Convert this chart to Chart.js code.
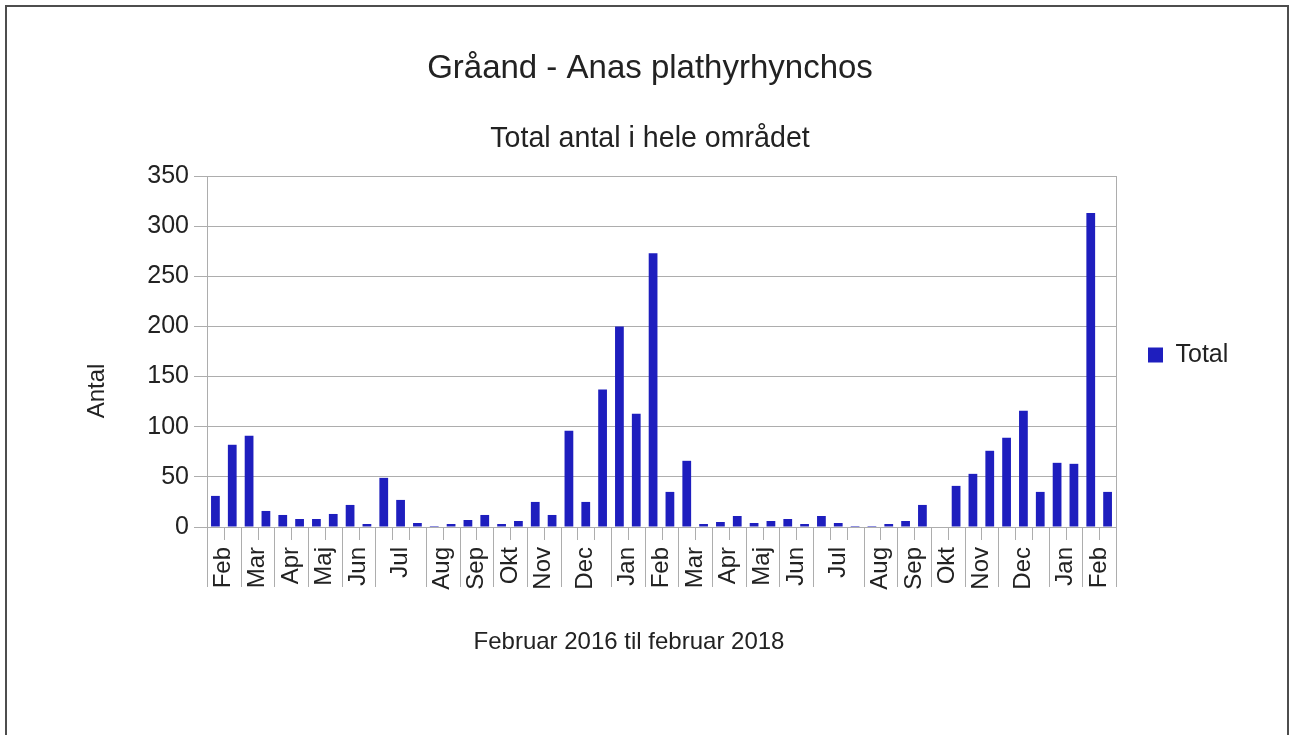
<!DOCTYPE html>
<html>
<head>
<meta charset="utf-8">
<script src="https://cdn.jsdelivr.net/npm/chart.js@4/dist/chart.umd.min.js"></script>
<style>
  html, body { margin: 0; padding: 0; background: #ffffff; overflow: hidden; }
  #wrap { position: relative; width: 1292px; height: 735px; }
  #c { position: absolute; left: 0; top: 0; }
  #frame { position: absolute; left: 5px; top: 5px; width: 1280px; height: 800px;
           border-left: 2px solid #4d4d4d; border-top: 2px solid #4d4d4d; border-right: 2px solid #4d4d4d;
           pointer-events: none; }
</style>
</head>
<body>
<div id="wrap">
  <canvas id="c" width="1292" height="735"></canvas>
  <div id="frame"></div>
</div>
<script>
// ---- data ----
const chartTitle = "Gråand - Anas plathyrhynchos";
const chartSubtitle = "Total antal i hele området";
const xAxisTitle = "Februar 2016 til februar 2018";
const yAxisTitle = "Antal";
const seriesName = "Total";

// one value per counting (54 countings, Feb 2016 - Feb 2018)
const totals = [
  31, 82, 91, 16, 12, 8, 8, 13, 22, 3,
  49, 27, 4, 1, 3, 7, 12, 3, 6, 25,
  12, 96, 25, 137, 200, 113, 273, 35, 66, 3,
  5, 11, 4, 6, 8, 3, 11, 4, 1, 1,
  3, 6, 22, 0, 41, 53, 76, 89, 116, 35,
  64, 63, 313, 35
];

// month labels and the counting index where each month group starts/ends
const monthLabels = [
  "Feb", "Mar", "Apr", "Maj", "Jun", "Jul", "Aug", "Sep", "Okt", "Nov", "Dec", "Jan",
  "Feb", "Mar", "Apr", "Maj", "Jun", "Jul", "Aug", "Sep", "Okt", "Nov", "Dec", "Jan", "Feb"
];
const monthBounds = [0, 2, 4, 6, 8, 10, 13, 15, 17, 19, 21, 24, 26, 28, 30, 32, 34, 36, 39, 41, 43, 45, 47, 50, 52, 54];

const yTicks = [0, 50, 100, 150, 200, 250, 300, 350];

// ---- styling ----
const barColor = "#1e1ebe";
const textColor = "#222222";
const gridColor = "#adadad";
const fontFamily = "'Liberation Sans', Arial, sans-serif";

Chart.defaults.font.family = fontFamily;
Chart.defaults.color = textColor;

const barData = totals.map((v, i) => ({ x: i + 0.5, y: v }));
const labelCenters = monthLabels.map((m, i) => (monthBounds[i] + monthBounds[i + 1]) / 2);

const decorPlugin = {
  id: 'decor',
  afterDraw(chart) {
    const ctx = chart.ctx;
    const xs = chart.scales.x;
    const area = chart.chartArea;
    ctx.save();
    ctx.strokeStyle = gridColor;
    ctx.lineWidth = 1;
    // right border of the plot
    const rx = Math.round(area.right) + 0.5;
    ctx.beginPath();
    ctx.moveTo(rx, area.top);
    ctx.lineTo(rx, area.bottom);
    ctx.stroke();
    // long separators between month groups
    const bottom = area.bottom;
    monthBounds.forEach(b => {
      const px = Math.round(xs.getPixelForValue(b)) + 0.5;
      ctx.beginPath();
      ctx.moveTo(px, bottom);
      ctx.lineTo(px, bottom + 60);
      ctx.stroke();
    });
    // short ticks between countings inside a month group
    for (let i = 1; i < totals.length; i++) {
      if (monthBounds.indexOf(i) >= 0) continue;
      const px = Math.round(xs.getPixelForValue(i)) + 0.5;
      ctx.beginPath();
      ctx.moveTo(px, bottom);
      ctx.lineTo(px, bottom + 13);
      ctx.stroke();
    }
    // axis titles
    ctx.fillStyle = textColor;
    ctx.font = "24px " + fontFamily;
    ctx.textAlign = 'center';
    ctx.textBaseline = 'middle';
    ctx.fillText(xAxisTitle, 629, 642);
    ctx.translate(97, 391);
    ctx.rotate(-Math.PI / 2);
    ctx.fillText(yAxisTitle, 0, 0);
    ctx.restore();
  }
};

new Chart(document.getElementById('c'), {
  type: 'bar',
  data: {
    datasets: [{
      label: seriesName,
      data: barData,
      backgroundColor: barColor,
      borderWidth: 0,
      barPercentage: 0.52,
      categoryPercentage: 1.0
    }]
  },
  options: {
    responsive: false,
    animation: false,
    devicePixelRatio: 1,
    layout: { padding: { left: 64, right: 56, top: 0, bottom: 25 } },
    plugins: {
      title: {
        display: true, text: chartTitle, color: textColor,
        font: { size: 33, weight: 'normal' },
        padding: { top: 48.7, bottom: 0 }
      },
      subtitle: {
        display: true, text: chartSubtitle, color: textColor,
        font: { size: 28.6, weight: 'normal' },
        padding: { top: 33.5, bottom: 19.9 }
      },
      legend: {
        display: true, position: 'right', align: 'center', maxWidth: 120,
        labels: { boxWidth: 15, boxHeight: 15, padding: 32, color: textColor, font: { size: 25 } }
      },
      tooltip: { enabled: false }
    },
    scales: {
      x: {
        type: 'linear', min: 0, max: 54, offset: false,
        grid: { display: false, drawTicks: false },
        border: { display: false },
        afterBuildTicks(scale) { scale.ticks = labelCenters.map(v => ({ value: v })); },
        afterFit(scale) { scale.height = 183; },
        ticks: {
          autoSkip: false, maxRotation: 90, minRotation: 90, padding: 20,
          color: textColor, font: { size: 24 },
          callback(value, index) { return monthLabels[index]; }
        }
      },
      y: {
        type: 'linear', min: 0, max: 350,
        afterBuildTicks(scale) { scale.ticks = yTicks.map(v => ({ value: v })); },
        afterFit(scale) { scale.width = 143; },
        grid: { color: gridColor, lineWidth: 1, drawTicks: true, tickLength: 13, tickColor: gridColor },
        border: { display: true, color: gridColor, width: 1 },
        ticks: { padding: 5, color: textColor, font: { size: 25 } }
      }
    }
  },
  plugins: [decorPlugin]
});
</script>
</body>
</html>
